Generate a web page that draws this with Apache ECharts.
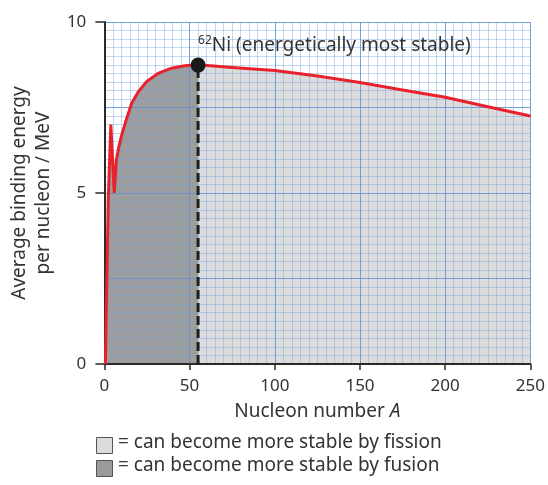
<!DOCTYPE html>
<html>
<head>
<meta charset="utf-8">
<script src="https://cdn.jsdelivr.net/npm/echarts@6/dist/echarts.min.js"></script>
<style>
html,body{margin:0;padding:0;background:#fff;}
#chart{width:548px;height:485px;}
</style>
</head>
<body>
<div id="chart"></div>
<script>
// Nucleon number A and average binding energy per nucleon (MeV)
const fusionA = [0.6, 2.3, 3.8, 5.8, 7.0, 8.3, 10.1, 13.1, 16, 19.9, 24.8, 31.6, 39.4, 47.2, 55];
const fusionE = [0, 4.8, 7.0, 5.0, 5.95, 6.3, 6.68, 7.18, 7.62, 7.96, 8.26, 8.5, 8.65, 8.72, 8.75];
const fissionA = [55, 75, 100, 125, 150, 175, 200, 225, 250];
const fissionE = [8.75, 8.67, 8.58, 8.42, 8.23, 8.01, 7.8, 7.52, 7.25];
const peakA = 55;
const peakE = 8.74;
const xTicks = [0, 50, 100, 150, 200, 250];
const yTicks = [0, 5, 10];
const legendLabels = ['= can become more stable by fission', '= can become more stable by fusion'];

const FONT = 'Noto Sans';
const pairs = (xs, ys) => xs.map((x, i) => [x, ys[i]]);
const fusionData = pairs(fusionA, fusionE);
const fissionData = pairs(fissionA, fissionE);
const curveData = fusionData.concat(fissionData.slice(1));

const chart = echarts.init(document.getElementById('chart'), null, {renderer: 'canvas'});
const option = {
  animation: false,
  backgroundColor: '#fff',
  grid: {left: 104, right: 17, top: 22, bottom: 121, containLabel: false},
  xAxis: [{
    type: 'value', min: xTicks[0], max: xTicks[xTicks.length - 1], interval: 50,
    z: 2,
    axisLine: {show: true, onZero: false, lineStyle: {color: '#2a2a2a', width: 2}},
    axisTick: {show: true, length: 6, lineStyle: {color: '#2a2a2a', width: 1.5}},
    axisLabel: {color: '#333', fontFamily: FONT, fontSize: 17, margin: 14},
    splitLine: {show: true, lineStyle: {color: 'rgba(95,145,210,0.85)', width: 1}},
    minorTick: {show: false, splitNumber: 10},
    minorSplitLine: {show: true, lineStyle: {color: 'rgba(110,160,225,0.42)', width: 1}},
    name: '{n|Nucleon number }{i|A}',
    nameLocation: 'middle', nameGap: 38,
    nameTextStyle: {
      rich: {
        n: {fontFamily: FONT, fontSize: 19, color: '#333'},
        i: {fontFamily: FONT, fontSize: 19, color: '#333', fontStyle: 'italic'}
      }
    }
  }],
  yAxis: [{
    type: 'value', min: 0, max: 10, interval: 5,
    z: 2,
    axisLine: {show: true, onZero: false, lineStyle: {color: '#2a2a2a', width: 2}},
    axisTick: {show: true, length: 9, lineStyle: {color: '#2a2a2a', width: 1.5}},
    axisLabel: {color: '#333', fontFamily: FONT, fontSize: 17, margin: 18},
    splitLine: {show: false},
    name: 'Average binding energy\nper nucleon / MeV',
    nameLocation: 'middle', nameGap: 44,
    nameTextStyle: {fontFamily: FONT, fontSize: 19, color: '#333', lineHeight: 24}
  }, {
    type: 'value', min: 0, max: 10, interval: 2.5, position: 'left',
    z: 2,
    axisLine: {show: false}, axisTick: {show: false}, axisLabel: {show: false},
    splitLine: {show: true, lineStyle: {color: 'rgba(95,145,210,0.85)', width: 1}},
    minorTick: {show: false, splitNumber: 10},
    minorSplitLine: {show: true, lineStyle: {color: 'rgba(110,160,225,0.42)', width: 1}}
  }],
  series: [
    {
      name: 'fusion', type: 'line', z: 1, data: fusionData, showSymbol: false, symbol: 'none',
      lineStyle: {width: 0, opacity: 0}, areaStyle: {color: '#9d9d9d', opacity: 1}, silent: true
    },
    {
      name: 'fission', type: 'line', z: 1, data: fissionData, showSymbol: false, symbol: 'none',
      lineStyle: {width: 0, opacity: 0}, areaStyle: {color: '#dcdcdc', opacity: 1}, silent: true
    },
    {
      name: 'curve', type: 'line', z: 3, data: curveData, showSymbol: false, symbol: 'none',
      lineStyle: {color: '#e8212b', width: 3, join: 'miter'}
    },
    {
      name: 'divider', type: 'line', z: 4, data: [[peakA, 0], [peakA, peakE]], showSymbol: false, symbol: 'none',
      lineStyle: {color: '#1f1f1f', width: 3, type: [9, 4]}
    },
    {
      name: 'peak', type: 'scatter', z: 5, data: [[peakA, peakE]], symbolSize: 15,
      itemStyle: {color: '#1a1a1a', opacity: 1},
      label: {
        show: true, position: 'top', align: 'left', verticalAlign: 'bottom', offset: [0, 4],
        formatter: '{s|62}{m|Ni (energetically most stable)}',
        rich: {
          s: {fontFamily: FONT, fontSize: 12, color: '#333', verticalAlign: 'top', lineHeight: 20},
          m: {fontFamily: FONT, fontSize: 19, color: '#333', lineHeight: 22}
        }
      }
    }
  ],
  graphic: [
    {type: 'rect', left: 96, top: 437, shape: {width: 16, height: 16}, style: {fill: '#dcdcdc', stroke: '#555', lineWidth: 1}},
    {type: 'text', left: 118, top: 433, style: {text: legendLabels[0], font: '19px "Noto Sans"', fill: '#333'}},
    {type: 'rect', left: 96, top: 460, shape: {width: 16, height: 16}, style: {fill: '#9a9a9a', stroke: '#555', lineWidth: 1}},
    {type: 'text', left: 118, top: 456, style: {text: legendLabels[1], font: '19px "Noto Sans"', fill: '#333'}}
  ]
};
chart.setOption(option);
</script>
</body>
</html>
